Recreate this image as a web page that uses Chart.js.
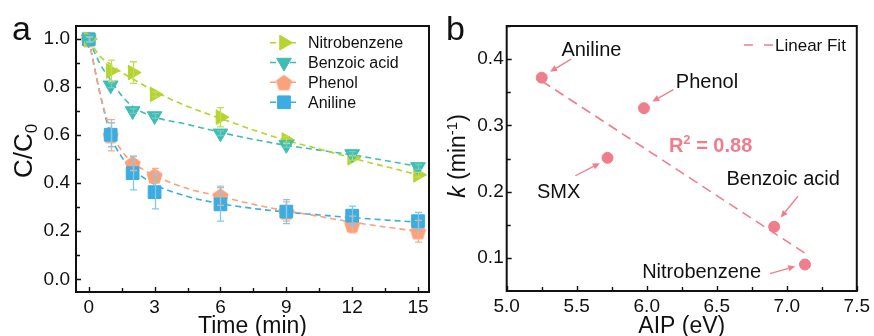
<!DOCTYPE html>
<html>
<head>
<meta charset="utf-8">
<script src="https://cdn.jsdelivr.net/npm/chart.js@4.4.1/dist/chart.umd.min.js"></script>
<style>
  html, body { margin: 0; padding: 0; background: #fff; }
  #wrap { position: relative; width: 874px; height: 336px; overflow: hidden; }
  #chartA { position: absolute; left: 0; top: 0; }
  #chartB { position: absolute; left: 440px; top: 0; }
</style>
</head>
<body>
<div id="wrap">
  <canvas id="chartA" width="440" height="336"></canvas>
  <canvas id="chartB" width="434" height="336"></canvas>
</div>
<script>
/* global Chart */

// ---- panel a: C/C0 vs time ----
const times = [0, 1, 2, 3, 6, 9, 12, 15];
const nitrobenzene = [1.0, 0.868, 0.861, 0.770, 0.675, 0.580, 0.506, 0.435];
const nitrobenzeneErr = [0.01, 0.045, 0.045, 0.01, 0.04, 0.015, 0.01, 0.01];
const benzoicAcid = [1.0, 0.808, 0.701, 0.680, 0.608, 0.560, 0.522, 0.468];
const benzoicAcidErr = [0.01, 0.01, 0.01, 0.01, 0.01, 0.01, 0.01, 0.01];
const phenol = [1.0, 0.600, 0.483, 0.432, 0.348, 0.282, 0.228, 0.200];
const phenolErr = [0.01, 0.065, 0.03, 0.03, 0.04, 0.04, 0.035, 0.045];
const aniline = [1.0, 0.602, 0.442, 0.363, 0.312, 0.282, 0.265, 0.242];
const anilineErr = [0.01, 0.05, 0.07, 0.07, 0.07, 0.05, 0.04, 0.037];

// fitted curves (dashed)
const fitTimes = [0, 0.5, 1, 1.5, 2, 3, 4.5, 6, 7.5, 9, 10.5, 12, 13.5, 15];
const nitrobenzeneFit = [1.0, 0.93, 0.895, 0.862, 0.835, 0.783, 0.72, 0.67, 0.622, 0.578, 0.543, 0.505, 0.47, 0.435];
const benzoicAcidFit = [1.0, 0.9, 0.83, 0.765, 0.72, 0.676, 0.645, 0.612, 0.583, 0.558, 0.538, 0.518, 0.495, 0.47];
const phenolFit = [1.0, 0.78, 0.62, 0.535, 0.487, 0.432, 0.378, 0.345, 0.312, 0.285, 0.262, 0.238, 0.218, 0.2];
const anilineFit = [1.0, 0.78, 0.6, 0.51, 0.46, 0.395, 0.345, 0.315, 0.295, 0.28, 0.268, 0.257, 0.247, 0.238];

const timeTicks = [0, 3, 6, 9, 12, 15];
const ratioTicks = [0.0, 0.2, 0.4, 0.6, 0.8, 1.0];

// ---- panel b: k vs AIP ----
const compounds = ["Aniline", "SMX", "Phenol", "Benzoic acid", "Nitrobenzene"];
const aip = [5.25, 5.72, 5.98, 6.91, 7.13];
const kRate = [0.372, 0.251, 0.326, 0.147, 0.090];
const fitAip = [5.25, 7.13];
const fitK = [0.367, 0.107];
const aipTicks = [5.0, 5.5, 6.0, 6.5, 7.0, 7.5];
const kTicks = [0.1, 0.2, 0.3, 0.4];

const FONT = '"Liberation Sans", Arial, sans-serif';
const INK = "#111";
const GREEN = "#b6d42e";
const TEAL = "#3fbdb3";
const ORANGE = "#f9a27c";
const BLUE = "#3badE0";
const PINK = "#f07d8c";

Chart.defaults.font.family = FONT;
Chart.defaults.color = INK;

function pts(xs, ys) {
  return xs.map((x, i) => ({ x, y: ys[i] }));
}

function pentagon(color, r) {
  const c = document.createElement("canvas");
  const s = Math.ceil(r * 2 + 2);
  c.width = s;
  c.height = s;
  const g = c.getContext("2d");
  g.fillStyle = color;
  g.beginPath();
  for (let i = 0; i < 5; i++) {
    const a = -Math.PI / 2 + (i * 2 * Math.PI) / 5;
    const px = s / 2 + r * Math.cos(a);
    const py = s / 2 + 1 + r * Math.sin(a);
    if (i === 0) g.moveTo(px, py);
    else g.lineTo(px, py);
  }
  g.closePath();
  g.fill();
  return c;
}

function drawRuns(ctx, runs, x, y, angle) {
  ctx.save();
  ctx.translate(x, y);
  ctx.rotate(angle || 0);
  ctx.textBaseline = "alphabetic";
  ctx.textAlign = "left";
  let w = 0;
  runs.forEach((r) => {
    ctx.font = r.font;
    w += ctx.measureText(r.text).width;
  });
  let cx = -w / 2;
  runs.forEach((r) => {
    ctx.font = r.font;
    ctx.fillStyle = r.color || INK;
    ctx.fillText(r.text, cx, r.dy || 0);
    cx += ctx.measureText(r.text).width;
  });
  ctx.restore();
}

function arrow(ctx, x1, y1, x2, y2, color) {
  const ang = Math.atan2(y2 - y1, x2 - x1);
  const L = 7, W = 3.2;
  const c = Math.cos(ang), s = Math.sin(ang);
  ctx.save();
  ctx.strokeStyle = color;
  ctx.fillStyle = color;
  ctx.lineWidth = 1.3;
  ctx.beginPath();
  ctx.moveTo(x1, y1);
  ctx.lineTo(x2 - L * c, y2 - L * s);
  ctx.stroke();
  ctx.beginPath();
  ctx.moveTo(x2, y2);
  ctx.lineTo(x2 - L * c + W * s, y2 - L * s - W * c);
  ctx.lineTo(x2 - L * c - W * s, y2 - L * s + W * c);
  ctx.closePath();
  ctx.fill();
  ctx.restore();
}

// box + inward ticks on left and bottom
const frame = {
  id: "frame",
  afterDraw(chart, args, o) {
    const { ctx, chartArea: a } = chart;
    const x = chart.scales.x, y = chart.scales.y;
    ctx.save();
    ctx.strokeStyle = INK;
    ctx.lineWidth = 1.4;
    ctx.beginPath();
    const n = Math.round((x.max - o.xStart) / o.xMinor);
    for (let i = 0; i <= n; i++) {
      const v = o.xStart + i * o.xMinor;
      if (v > x.max + 1e-9) break;
      const px = Math.round(x.getPixelForValue(v)) + 0.5;
      const len = i % 2 === 0 ? 5 : 4;
      ctx.moveTo(px, a.bottom);
      ctx.lineTo(px, a.bottom - len);
    }
    const m = Math.round((y.max - o.yStart) / o.yMinor);
    for (let i = 0; i <= m; i++) {
      const v = o.yStart + i * o.yMinor;
      if (v > y.max + 1e-9) break;
      const py = Math.round(y.getPixelForValue(v)) + 0.5;
      const len = i % 2 === 0 ? 5 : 4;
      ctx.moveTo(a.left, py);
      ctx.lineTo(a.left + len, py);
    }
    ctx.stroke();
    ctx.lineWidth = 2;
    ctx.strokeRect(a.left, a.top, a.right - a.left, a.bottom - a.top);
    ctx.restore();
  },
};

// titles, panel letter, legend, annotations
const extras = {
  id: "extras",
  afterDraw(chart, args, o) {
    const ctx = chart.ctx;
    const x = chart.scales.x, y = chart.scales.y;
    ctx.save();
    ctx.fillStyle = INK;
    ctx.font = `34px ${FONT}`;
    ctx.textBaseline = "alphabetic";
    ctx.fillText(o.letter, o.letterPos[0], o.letterPos[1]);
    ctx.restore();
    drawRuns(ctx, o.yTitle, o.yTitlePos[0], o.yTitlePos[1], -Math.PI / 2);

    (o.legend || []).forEach((it) => {
      ctx.save();
      ctx.strokeStyle = it.color;
      ctx.lineWidth = 1.6;
      ctx.setLineDash(it.dash);
      ctx.beginPath();
      ctx.moveTo(it.x0, it.y);
      ctx.lineTo(it.x1, it.y);
      ctx.stroke();
      ctx.restore();
      if (it.marker) {
        ctx.save();
        ctx.fillStyle = it.color;
        ctx.strokeStyle = it.color;
        ctx.lineWidth = 1;
        Chart.helpers.drawPoint(ctx, Object.assign({ borderWidth: 1 }, it.marker), (it.x0 + it.x1) / 2, it.y);
        ctx.restore();
      }
      ctx.save();
      ctx.fillStyle = INK;
      ctx.font = `${it.size}px ${FONT}`;
      ctx.textBaseline = "middle";
      ctx.fillText(it.text, it.tx, it.y + 1);
      ctx.restore();
    });

    (o.notes || []).forEach((nt) => {
      const px = x.getPixelForValue(nt.at[0]);
      const py = y.getPixelForValue(nt.at[1]);
      drawRuns(ctx, nt.runs, px, py + 7);
      if (nt.arrow) {
        arrow(
          ctx,
          x.getPixelForValue(nt.arrow[0][0]), y.getPixelForValue(nt.arrow[0][1]),
          x.getPixelForValue(nt.arrow[1][0]), y.getPixelForValue(nt.arrow[1][1]),
          PINK
        );
      }
    });
  },
};

// vertical error bars drawn over the markers
const errorBars = {
  id: "errorBars",
  afterDatasetsDraw(chart) {
    const { ctx } = chart;
    const x = chart.scales.x, y = chart.scales.y;
    ctx.save();
    chart.data.datasets.forEach((ds) => {
      if (!ds.errors) return;
      ctx.strokeStyle = ds.errorColor;
      ctx.lineWidth = 1.3;
      ds.data.forEach((p, i) => {
        const e = ds.errors[i];
        const px = Math.round(x.getPixelForValue(p.x)) + 0.5;
        const top = y.getPixelForValue(p.y + e);
        const bot = y.getPixelForValue(p.y - e);
        ctx.beginPath();
        ctx.moveTo(px, top);
        ctx.lineTo(px, bot);
        ctx.moveTo(px - 3.5, top);
        ctx.lineTo(px + 3.5, top);
        ctx.moveTo(px - 3.5, bot);
        ctx.lineTo(px + 3.5, bot);
        ctx.stroke();
      });
    });
    ctx.restore();
  },
};

function axisX(min, max, tickVals, fmt, height, title) {
  return {
    type: "linear",
    min,
    max,
    afterFit: (s) => { s.height = height; },
    afterBuildTicks: (s) => { s.ticks = tickVals.map((v) => ({ value: v })); },
    grid: { display: false, drawTicks: false },
    border: { display: false },
    ticks: { padding: 4, font: { size: 19 }, color: INK, maxRotation: 0, autoSkip: false, callback: fmt },
    title: { display: true, text: title, font: { size: 23 }, color: INK, padding: { top: 0, bottom: -4 } },
  };
}

function axisY(min, max, tickVals, fmt, width, pad) {
  return {
    type: "linear",
    min,
    max,
    afterFit: (s) => { s.width = width; },
    afterBuildTicks: (s) => { s.ticks = tickVals.map((v) => ({ value: v })); },
    grid: { display: false, drawTicks: false },
    border: { display: false },
    ticks: { padding: pad, font: { size: 19 }, color: INK, autoSkip: false, callback: fmt },
  };
}

const pentOrange = pentagon(ORANGE, 8.5);

function markerSet(label, ys, errs, color, errColor, style, rot, radius, order) {
  return {
    label,
    data: pts(times, ys),
    errors: errs,
    errorColor: errColor,
    showLine: false,
    pointStyle: style,
    rotation: rot,
    pointRadius: radius,
    backgroundColor: color,
    borderColor: color,
    pointBorderWidth: 1,
    order,
  };
}

function fitSet(ys, color) {
  return {
    label: "fit",
    data: pts(fitTimes, ys),
    showLine: true,
    pointRadius: 0,
    borderColor: color,
    borderWidth: 1.6,
    borderDash: [6, 4],
    cubicInterpolationMode: "monotone",
    order: 10,
  };
}

new Chart(document.getElementById("chartA"), {
  type: "scatter",
  data: {
    datasets: [
      markerSet("Nitrobenzene", nitrobenzene, nitrobenzeneErr, GREEN, "#c3dc55", "triangle", 90, 8.5, 2),
      markerSet("Benzoic acid", benzoicAcid, benzoicAcidErr, TEAL, "#6fcdc6", "triangle", 180, 8.5, 1),
      markerSet("Phenol", phenol, phenolErr, ORANGE, "#f6ad8f", pentOrange, 0, 8.5, 4),
      markerSet("Aniline", aniline, anilineErr, BLUE, "#7fc9ec", "rect", 0, 9, 3),
      fitSet(nitrobenzeneFit, GREEN),
      fitSet(benzoicAcidFit, TEAL),
      fitSet(phenolFit, ORANGE),
      fitSet(anilineFit, BLUE),
    ],
  },
  options: {
    responsive: false,
    animation: false,
    layout: { padding: { left: 0, right: 11, top: 26, bottom: 0 } },
    scales: {
      x: axisX(-0.58, 15.5, timeTicks, (v) => String(v), 44, "Time (min)"),
      y: axisY(-0.053, 1.055, ratioTicks, (v) => v.toFixed(1), 76, 6),
    },
    plugins: {
      legend: { display: false },
      tooltip: { enabled: false },
      frame: { xStart: 0, xMinor: 1.5, yStart: 0, yMinor: 0.1 },
      extras: {
        letter: "a",
        letterPos: [12, 40],
        yTitle: [
          { text: "C/C", font: `26px ${FONT}` },
          { text: "0", font: `17px ${FONT}`, dy: 5 },
        ],
        yTitlePos: [32, 151],
        legend: [
          { text: "Nitrobenzene", color: GREEN, dash: [6, 4], x0: 270, x1: 298, y: 42.7, tx: 308, size: 16,
            marker: { pointStyle: "triangle", rotation: 90, radius: 8.5 } },
          { text: "Benzoic acid", color: TEAL, dash: [6, 4], x0: 270, x1: 298, y: 62.5, tx: 308, size: 16,
            marker: { pointStyle: "triangle", rotation: 180, radius: 8.5 } },
          { text: "Phenol", color: ORANGE, dash: [6, 4], x0: 270, x1: 298, y: 82.3, tx: 308, size: 16,
            marker: { pointStyle: pentOrange, rotation: 0, radius: 8.5 } },
          { text: "Aniline", color: BLUE, dash: [6, 4], x0: 270, x1: 298, y: 102.3, tx: 308, size: 16,
            marker: { pointStyle: "rect", rotation: 0, radius: 9 } },
        ],
      },
    },
  },
  plugins: [errorBars, frame, extras],
});

const nameFont = `20px ${FONT}`;

new Chart(document.getElementById("chartB"), {
  type: "scatter",
  data: {
    datasets: [
      {
        label: "k",
        data: pts(aip, kRate),
        pointRadius: 5.5,
        backgroundColor: PINK,
        borderColor: PINK,
        order: 1,
      },
      {
        label: "Linear Fit",
        data: pts(fitAip, fitK),
        showLine: true,
        pointRadius: 0,
        borderColor: PINK,
        borderWidth: 1.6,
        borderDash: [10, 6],
        order: 2,
      },
    ],
  },
  options: {
    responsive: false,
    animation: false,
    layout: { padding: { left: 0, right: 14.7, top: 26, bottom: 0 } },
    scales: {
      x: axisX(5.0, 7.5, aipTicks, (v) => v.toFixed(1), 45, "AIP (eV)"),
      y: axisY(0.05, 0.45, kTicks, (v) => v.toFixed(1), 66.7, 3),
    },
    plugins: {
      legend: { display: false },
      tooltip: { enabled: false },
      frame: { xStart: 5.0, xMinor: 0.25, yStart: 0.1, yMinor: 0.05 },
      extras: {
        letter: "b",
        letterPos: [6, 40],
        yTitle: [
          { text: "k", font: `italic 23px ${FONT}` },
          { text: " (min", font: `23px ${FONT}` },
          { text: "-1", font: `15px ${FONT}`, dy: -8 },
          { text: ")", font: `23px ${FONT}` },
        ],
        yTitlePos: [25, 156],
        legend: [
          { text: "Linear Fit", color: PINK, dash: [9, 11], x0: 304, x1: 333, y: 45, tx: 335, size: 17 },
        ],
        notes: [
          { runs: [{ text: compounds[0], font: nameFont }], at: [5.605, 0.4155], arrow: [[5.46, 0.40], [5.31, 0.381]] },
          { runs: [{ text: compounds[1], font: nameFont }], at: [5.371, 0.2003], arrow: [[5.49, 0.224], [5.665, 0.243]] },
          { runs: [{ text: compounds[2], font: nameFont }], at: [6.43, 0.367], arrow: [[6.19, 0.354], [6.04, 0.336]] },
          { runs: [{ text: compounds[3], font: nameFont }], at: [6.974, 0.2205], arrow: [[7.08, 0.193], [6.957, 0.161]] },
          { runs: [{ text: compounds[4], font: nameFont }], at: [6.392, 0.0797], arrow: [[6.88, 0.0762], [7.06, 0.0872]] },
          {
            runs: [
              { text: "R", font: `bold 20px ${FONT}`, color: PINK },
              { text: "2", font: `bold 13px ${FONT}`, color: PINK, dy: -8 },
              { text: " = 0.88", font: `bold 20px ${FONT}`, color: PINK },
            ],
            at: [6.456, 0.27],
          },
        ],
      },
    },
  },
  plugins: [frame, extras],
});
</script>
</body>
</html>
